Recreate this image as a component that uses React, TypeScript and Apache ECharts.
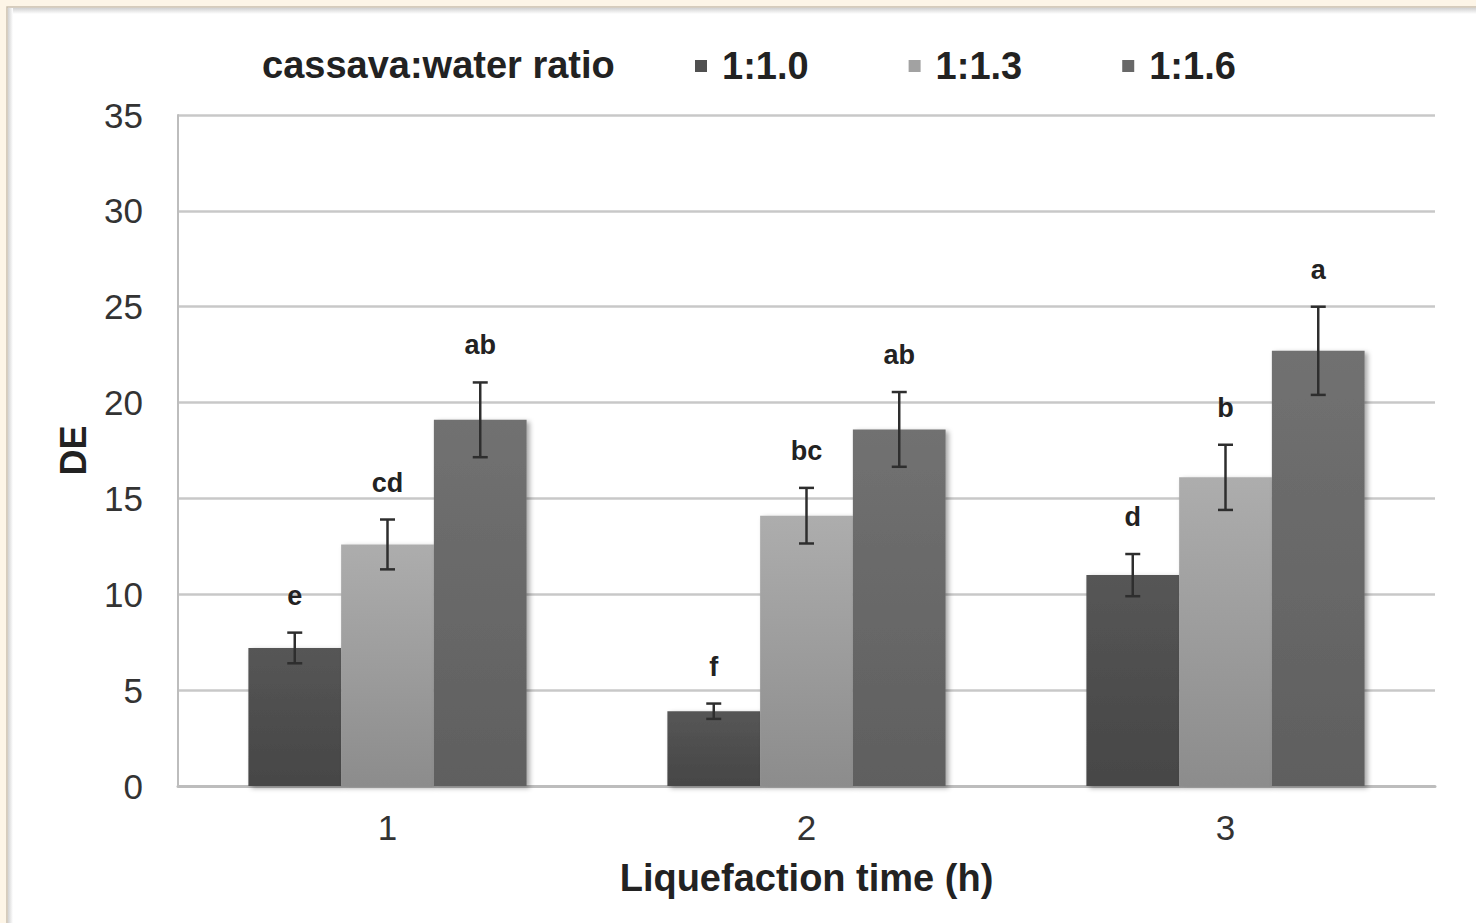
import React, { useEffect, useRef } from "react";
import * as echarts from "echarts";

const categories = ["1", "2", "3"];
const seriesNames = ["1:1.0", "1:1.3", "1:1.6"];
const ratio10 = [7.2, 3.9, 11.0];
const ratio13 = [12.6, 14.1, 16.1];
const ratio16 = [19.1, 18.6, 22.7];
const err10 = [0.8, 0.4, 1.1];
const err13 = [1.3, 1.45, 1.7];
const err16 = [1.95, 1.95, 2.3];
const letters10 = ["e", "f", "d"];
const letters13 = ["cd", "bc", "b"];
const letters16 = ["ab", "ab", "a"];
const yTicks = [0, 5, 10, 15, 20, 25, 30, 35];

const GAP = 0.336;
const FONT = "'Liberation Sans', Arial, sans-serif";

const barColors = [
  ["#565656", "#464646"],
  ["#adadad", "#8c8c8c"],
  ["#717171", "#5f5f5f"],
];
const legendColors = ["#505050", "#a2a2a2", "#686868"];

export default function App() {
  const ref = useRef<HTMLDivElement>(null);
  useEffect(() => {
    if (!ref.current) return;
    const chart = echarts.init(ref.current, null, { renderer: "svg" });
    const values = [ratio10, ratio13, ratio16];
    const errs = [err10, err13, err16];
    const letters = [letters10, letters13, letters16];

    const barSeries = values.map((vals, k) => ({
      name: seriesNames[k],
      type: "bar",
      data: vals,
      barGap: "0%",
      barCategoryGap: `${GAP * 100}%`,
      itemStyle: {
        color: new echarts.graphic.LinearGradient(0, 0, 0, 1, [
          { offset: 0, color: barColors[k][0] },
          { offset: 1, color: barColors[k][1] },
        ]),
        shadowColor: "rgba(0,0,0,0.35)",
        shadowBlur: 5,
        shadowOffsetX: 3,
        shadowOffsetY: 2,
      },
      z: 2,
    }));

    const errSeries = values.map((vals, k) => ({
      name: seriesNames[k] + " err",
      type: "custom",
      data: vals.map((v, i) => [i, v, errs[k][i], i]),
      encode: { x: 0, y: 1 },
      clip: false,
      z: 5,
      renderItem: (params: any, api: any) => {
        const cat = api.value(0);
        const v = api.value(1);
        const e = api.value(2);
        const idx = api.value(3);
        const band = api.size([1, 0])[0];
        const barW = (band * (1 - GAP)) / 3;
        const off = (k - 1) * barW;
        const top = api.coord([cat, v + e]);
        const bot = api.coord([cat, v - e]);
        const x = top[0] + off;
        const cap = 7.5;
        const st = { stroke: "#2e2e2e", lineWidth: 2.5 };
        return {
          type: "group",
          children: [
            { type: "line", shape: { x1: x, y1: top[1], x2: x, y2: bot[1] }, style: st },
            { type: "line", shape: { x1: x - cap, y1: top[1], x2: x + cap, y2: top[1] }, style: st },
            { type: "line", shape: { x1: x - cap, y1: bot[1], x2: x + cap, y2: bot[1] }, style: st },
            {
              type: "text",
              x: x,
              y: top[1] - 37,
              style: {
                text: letters[k][idx],
                fontSize: 27,
                fontWeight: "bold",
                fontFamily: FONT,
                fill: "#222",
                align: "center",
                verticalAlign: "middle",
              },
            },
          ],
        };
      },
    }));

    chart.setOption({
      animation: false,
      backgroundColor: "#fdf5e7",
      graphic: [
        {
          type: "rect",
          z: -10,
          shape: { x: 7, y: 7, width: 1480, height: 930 },
          style: { fill: "#ffffff", stroke: "#c9bfae", lineWidth: 1.5 },
        },
        {
          type: "rect",
          z: -9,
          shape: { x: 8, y: 8, width: 1470, height: 6 },
          style: {
            fill: new echarts.graphic.LinearGradient(0, 0, 0, 1, [
              { offset: 0, color: "#d2d2d2" },
              { offset: 1, color: "#ffffff" },
            ]),
          },
        },
        {
          type: "rect",
          z: -9,
          shape: { x: 8, y: 8, width: 5, height: 920 },
          style: {
            fill: new echarts.graphic.LinearGradient(0, 0, 1, 0, [
              { offset: 0, color: "#d2d2d2" },
              { offset: 1, color: "#ffffff" },
            ]),
          },
        },
        {
          type: "text",
          left: 262,
          top: 46,
          style: {
            text: "cassava:water ratio",
            fontSize: 38,
            fontWeight: "bold",
            fontFamily: FONT,
            fill: "#222",
          },
        },
      ],
      legend: {
        left: 695,
        top: 47,
        padding: 0,
        icon: "rect",
        itemWidth: 12,
        itemHeight: 12,
        itemGap: 100,
        data: seriesNames.map((n, k) => ({ name: n, itemStyle: { color: legendColors[k] } })),
        textStyle: {
          fontSize: 38,
          fontWeight: "bold",
          fontFamily: FONT,
          color: "#222",
          padding: [0, 0, 0, 10],
        },
      },
      grid: { left: 178, right: 41, top: 115, bottom: 137, containLabel: false },
      xAxis: {
        type: "category",
        data: categories,
        name: "Liquefaction time (h)",
        nameLocation: "middle",
        nameGap: 73,
        nameTextStyle: { fontSize: 38, fontWeight: "bold", fontFamily: FONT, color: "#222" },
        axisLine: { lineStyle: { color: "#bdbdbd", width: 3 } },
        axisTick: { show: false },
        axisLabel: { fontSize: 35, fontFamily: FONT, color: "#333", margin: 24 },
      },
      yAxis: {
        type: "value",
        min: 0,
        max: yTicks[yTicks.length - 1],
        interval: yTicks[1] - yTicks[0],
        name: "DE",
        nameLocation: "middle",
        nameGap: 87,
        nameRotate: 90,
        nameTextStyle: { fontSize: 36, fontWeight: "bold", fontFamily: FONT, color: "#222" },
        axisLine: { show: true, lineStyle: { color: "#bdbdbd", width: 2 } },
        axisTick: { show: false },
        axisLabel: { fontSize: 35, fontFamily: FONT, color: "#333", margin: 35 },
        splitLine: { lineStyle: { color: "#c8c8c8", width: 2.5 } },
      },
      series: [...barSeries, ...errSeries],
    });
    return () => chart.dispose();
  }, []);
  return (
    <div
      ref={ref}
      style={{ position: "absolute", left: 0, top: 0, width: 1476, height: 923 }}
    />
  );
}
